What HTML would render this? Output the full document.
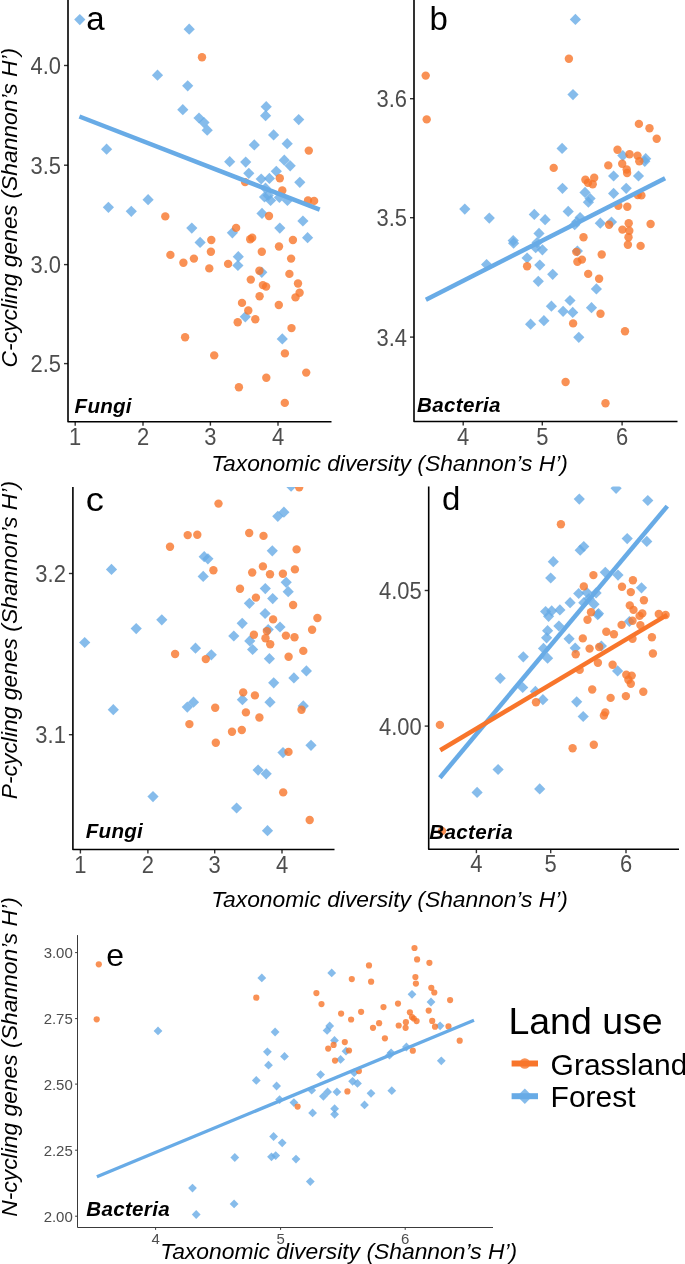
<!DOCTYPE html>
<html><head><meta charset="utf-8"><style>
html,body{margin:0;padding:0;background:#fff;}
body{width:685px;height:1264px;overflow:hidden;}
svg{display:block;font-family:"Liberation Sans",sans-serif;will-change:transform;}
</style></head><body>
<svg width="685" height="1264" viewBox="0 0 685 1264">
<rect width="685" height="1264" fill="#fff"/>
<clipPath id="ca"><rect x="68" y="0" width="264" height="422"/></clipPath><g clip-path="url(#ca)"><g fill="#68ABE6" fill-opacity="0.8"><path d="M79.8 14.0L85.4 19.6L79.8 25.2L74.2 19.6Z"/><path d="M189.2 23.6L194.8 29.2L189.2 34.8L183.6 29.2Z"/><path d="M157.5 69.6L163.1 75.2L157.5 80.8L151.9 75.2Z"/><path d="M187.7 80.2L193.3 85.8L187.7 91.4L182.1 85.8Z"/><path d="M182.8 104.1L188.4 109.7L182.8 115.3L177.2 109.7Z"/><path d="M199.0 112.4L204.6 118.0L199.0 123.6L193.4 118.0Z"/><path d="M266.2 101.1L271.8 106.7L266.2 112.3L260.6 106.7Z"/><path d="M265.6 110.1L271.2 115.7L265.6 121.3L260.0 115.7Z"/><path d="M298.7 114.0L304.3 119.6L298.7 125.2L293.1 119.6Z"/><path d="M273.6 129.3L279.2 134.9L273.6 140.5L268.0 134.9Z"/><path d="M204.0 117.0L209.6 122.6L204.0 128.2L198.4 122.6Z"/><path d="M207.2 124.6L212.8 130.2L207.2 135.8L201.6 130.2Z"/><path d="M287.2 138.1L292.8 143.7L287.2 149.3L281.6 143.7Z"/><path d="M254.3 139.3L259.9 144.9L254.3 150.5L248.7 144.9Z"/><path d="M106.6 143.6L112.2 149.2L106.6 154.8L101.0 149.2Z"/><path d="M108.4 201.7L114.0 207.3L108.4 212.9L102.8 207.3Z"/><path d="M131.3 205.7L136.9 211.3L131.3 216.9L125.7 211.3Z"/><path d="M148.1 194.1L153.7 199.7L148.1 205.3L142.5 199.7Z"/><path d="M191.8 222.5L197.4 228.1L191.8 233.7L186.2 228.1Z"/><path d="M200.1 236.8L205.7 242.4L200.1 248.0L194.5 242.4Z"/><path d="M229.7 156.1L235.3 161.7L229.7 167.3L224.1 161.7Z"/><path d="M245.7 156.5L251.3 162.1L245.7 167.7L240.1 162.1Z"/><path d="M284.3 154.6L289.9 160.2L284.3 165.8L278.7 160.2Z"/><path d="M290.2 160.2L295.8 165.8L290.2 171.4L284.6 165.8Z"/><path d="M248.8 167.7L254.4 173.3L248.8 178.9L243.2 173.3Z"/><path d="M276.3 165.7L281.9 171.3L276.3 176.9L270.7 171.3Z"/><path d="M261.2 173.4L266.8 179.0L261.2 184.6L255.6 179.0Z"/><path d="M269.4 172.8L275.0 178.4L269.4 184.0L263.8 178.4Z"/><path d="M299.8 176.7L305.4 182.3L299.8 187.9L294.2 182.3Z"/><path d="M265.5 182.6L271.1 188.2L265.5 193.8L259.9 188.2Z"/><path d="M264.5 191.4L270.1 197.0L264.5 202.6L258.9 197.0Z"/><path d="M268.2 189.8L273.8 195.4L268.2 201.0L262.6 195.4Z"/><path d="M270.6 194.9L276.2 200.5L270.6 206.1L265.0 200.5Z"/><path d="M279.4 191.8L285.0 197.4L279.4 203.0L273.8 197.4Z"/><path d="M287.4 194.9L293.0 200.5L287.4 206.1L281.8 200.5Z"/><path d="M262.0 207.8L267.6 213.4L262.0 219.0L256.4 213.4Z"/><path d="M302.9 215.4L308.5 221.0L302.9 226.6L297.3 221.0Z"/><path d="M232.4 227.2L238.0 232.8L232.4 238.4L226.8 232.8Z"/><path d="M279.8 222.5L285.4 228.1L279.8 233.7L274.2 228.1Z"/><path d="M307.6 232.1L313.2 237.7L307.6 243.3L302.0 237.7Z"/><path d="M238.3 251.1L243.9 256.7L238.3 262.3L232.7 256.7Z"/><path d="M237.9 259.9L243.5 265.5L237.9 271.1L232.3 265.5Z"/><path d="M261.8 266.7L267.4 272.3L261.8 277.9L256.2 272.3Z"/><path d="M245.3 311.2L250.9 316.8L245.3 322.4L239.7 316.8Z"/><path d="M282.3 333.3L287.9 338.9L282.3 344.5L276.7 338.9Z"/></g><g fill="#F8752B" fill-opacity="0.8"><circle cx="202.0" cy="57.2" r="4.2"/><circle cx="165.3" cy="216.4" r="4.2"/><circle cx="170.4" cy="254.9" r="4.2"/><circle cx="183.4" cy="262.8" r="4.2"/><circle cx="193.9" cy="258.6" r="4.2"/><circle cx="308.8" cy="150.6" r="4.2"/><circle cx="279.8" cy="178.2" r="4.2"/><circle cx="245.1" cy="182.1" r="4.2"/><circle cx="282.3" cy="190.5" r="4.2"/><circle cx="308.0" cy="200.5" r="4.2"/><circle cx="314.1" cy="200.9" r="4.2"/><circle cx="269.0" cy="216.0" r="4.2"/><circle cx="236.1" cy="227.9" r="4.2"/><circle cx="211.3" cy="240.0" r="4.2"/><circle cx="250.2" cy="239.3" r="4.2"/><circle cx="252.2" cy="237.7" r="4.2"/><circle cx="292.9" cy="240.0" r="4.2"/><circle cx="210.9" cy="251.8" r="4.2"/><circle cx="261.8" cy="251.8" r="4.2"/><circle cx="279.0" cy="246.5" r="4.2"/><circle cx="291.1" cy="258.6" r="4.2"/><circle cx="228.1" cy="263.9" r="4.2"/><circle cx="209.3" cy="268.4" r="4.2"/><circle cx="259.4" cy="270.8" r="4.2"/><circle cx="289.4" cy="273.9" r="4.2"/><circle cx="250.8" cy="279.6" r="4.2"/><circle cx="262.9" cy="285.1" r="4.2"/><circle cx="266.1" cy="286.6" r="4.2"/><circle cx="298.0" cy="283.5" r="4.2"/><circle cx="299.6" cy="292.7" r="4.2"/><circle cx="295.5" cy="297.4" r="4.2"/><circle cx="259.6" cy="296.2" r="4.2"/><circle cx="242.0" cy="302.9" r="4.2"/><circle cx="278.8" cy="305.0" r="4.2"/><circle cx="248.3" cy="310.5" r="4.2"/><circle cx="255.3" cy="319.3" r="4.2"/><circle cx="237.7" cy="322.3" r="4.2"/><circle cx="291.5" cy="328.1" r="4.2"/><circle cx="185.1" cy="337.3" r="4.2"/><circle cx="214.2" cy="355.4" r="4.2"/><circle cx="284.9" cy="353.4" r="4.2"/><circle cx="306.2" cy="372.6" r="4.2"/><circle cx="266.3" cy="377.7" r="4.2"/><circle cx="238.9" cy="387.3" r="4.2"/><circle cx="284.8" cy="402.9" r="4.2"/></g><line x1="79.4" y1="116.5" x2="319.7" y2="209.7" stroke="#68ABE6" stroke-width="4.5"/></g><line x1="64" y1="65.5" x2="68" y2="65.5" stroke="#333" stroke-width="1.4"/><text transform="translate(61.0 74.0) scale(0.93 1)" text-anchor="end" font-size="23.62" fill="#4D4D4D">4.0</text><line x1="64" y1="165.2" x2="68" y2="165.2" stroke="#333" stroke-width="1.4"/><text transform="translate(61.0 173.7) scale(0.93 1)" text-anchor="end" font-size="23.62" fill="#4D4D4D">3.5</text><line x1="64" y1="264.6" x2="68" y2="264.6" stroke="#333" stroke-width="1.4"/><text transform="translate(61.0 273.1) scale(0.93 1)" text-anchor="end" font-size="23.62" fill="#4D4D4D">3.0</text><line x1="64" y1="363.6" x2="68" y2="363.6" stroke="#333" stroke-width="1.4"/><text transform="translate(61.0 372.1) scale(0.93 1)" text-anchor="end" font-size="23.62" fill="#4D4D4D">2.5</text><line x1="75.2" y1="421.7" x2="75.2" y2="425.7" stroke="#333" stroke-width="1.4"/><text transform="translate(75.2 444.9) scale(0.93 1)" text-anchor="middle" font-size="23.62" fill="#4D4D4D">1</text><line x1="143" y1="421.7" x2="143" y2="425.7" stroke="#333" stroke-width="1.4"/><text transform="translate(143 444.9) scale(0.93 1)" text-anchor="middle" font-size="23.62" fill="#4D4D4D">2</text><line x1="210.4" y1="421.7" x2="210.4" y2="425.7" stroke="#333" stroke-width="1.4"/><text transform="translate(210.4 444.9) scale(0.93 1)" text-anchor="middle" font-size="23.62" fill="#4D4D4D">3</text><line x1="278" y1="421.7" x2="278" y2="425.7" stroke="#333" stroke-width="1.4"/><text transform="translate(278 444.9) scale(0.93 1)" text-anchor="middle" font-size="23.62" fill="#4D4D4D">4</text><path d="M68 0V421.7H331.5" fill="none" stroke="#000" stroke-width="1.6" stroke-linejoin="round"/><clipPath id="cb"><rect x="414" y="0" width="264" height="421.5"/></clipPath><g clip-path="url(#cb)"><g fill="#68ABE6" fill-opacity="0.8"><path d="M575.4 13.8L581.0 19.4L575.4 25.0L569.8 19.4Z"/><path d="M573.0 89.0L578.6 94.6L573.0 100.2L567.4 94.6Z"/><path d="M464.8 203.5L470.4 209.1L464.8 214.7L459.2 209.1Z"/><path d="M489.3 212.5L494.9 218.1L489.3 223.7L483.7 218.1Z"/><path d="M534.3 208.8L539.9 214.4L534.3 220.0L528.7 214.4Z"/><path d="M545.1 214.1L550.7 219.7L545.1 225.3L539.5 219.7Z"/><path d="M513.2 235.0L518.8 240.6L513.2 246.2L507.6 240.6Z"/><path d="M513.6 237.6L519.2 243.2L513.6 248.8L508.0 243.2Z"/><path d="M539.0 227.8L544.6 233.4L539.0 239.0L533.4 233.4Z"/><path d="M537.1 237.0L542.7 242.6L537.1 248.2L531.5 242.6Z"/><path d="M535.7 242.1L541.3 247.7L535.7 253.3L530.1 247.7Z"/><path d="M542.4 244.2L548.0 249.8L542.4 255.4L536.8 249.8Z"/><path d="M527.1 252.4L532.7 258.0L527.1 263.6L521.5 258.0Z"/><path d="M562.1 142.8L567.7 148.4L562.1 154.0L556.5 148.4Z"/><path d="M622.8 150.0L628.4 155.6L622.8 161.2L617.2 155.6Z"/><path d="M645.7 153.1L651.3 158.7L645.7 164.3L640.1 158.7Z"/><path d="M644.8 155.7L650.4 161.3L644.8 166.9L639.2 161.3Z"/><path d="M613.6 170.4L619.2 176.0L613.6 181.6L608.0 176.0Z"/><path d="M638.5 170.4L644.1 176.0L638.5 181.6L632.9 176.0Z"/><path d="M562.5 182.7L568.1 188.3L562.5 193.9L556.9 188.3Z"/><path d="M585.0 186.8L590.6 192.4L585.0 198.0L579.4 192.4Z"/><path d="M613.6 187.8L619.2 193.4L613.6 199.0L608.0 193.4Z"/><path d="M626.2 182.7L631.8 188.3L626.2 193.9L620.6 188.3Z"/><path d="M590.1 192.9L595.7 198.5L590.1 204.1L584.5 198.5Z"/><path d="M588.4 196.6L594.0 202.2L588.4 207.8L582.8 202.2Z"/><path d="M568.2 205.8L573.8 211.4L568.2 217.0L562.6 211.4Z"/><path d="M580.1 211.9L585.7 217.5L580.1 223.1L574.5 217.5Z"/><path d="M576.8 216.4L582.4 222.0L576.8 227.6L571.2 222.0Z"/><path d="M574.7 219.1L580.3 224.7L574.7 230.3L569.1 224.7Z"/><path d="M600.3 217.6L605.9 223.2L600.3 228.8L594.7 223.2Z"/><path d="M611.5 216.4L617.1 222.0L611.5 227.6L605.9 222.0Z"/><path d="M486.6 258.9L492.2 264.5L486.6 270.1L481.0 264.5Z"/><path d="M539.8 259.5L545.4 265.1L539.8 270.7L534.2 265.1Z"/><path d="M538.3 275.7L543.9 281.3L538.3 286.9L532.7 281.3Z"/><path d="M552.7 268.7L558.3 274.3L552.7 279.9L547.1 274.3Z"/><path d="M551.4 300.6L557.0 306.2L551.4 311.8L545.8 306.2Z"/><path d="M530.6 318.6L536.2 324.2L530.6 329.8L525.0 324.2Z"/><path d="M543.9 315.1L549.5 320.7L543.9 326.3L538.3 320.7Z"/><path d="M577.4 245.4L583.0 251.0L577.4 256.6L571.8 251.0Z"/><path d="M596.4 283.3L602.0 288.9L596.4 294.5L590.8 288.9Z"/><path d="M570.0 294.9L575.6 300.5L570.0 306.1L564.4 300.5Z"/><path d="M563.1 305.7L568.7 311.3L563.1 316.9L557.5 311.3Z"/><path d="M572.7 306.8L578.3 312.4L572.7 318.0L567.1 312.4Z"/><path d="M591.5 302.1L597.1 307.7L591.5 313.3L585.9 307.7Z"/><path d="M578.8 331.7L584.4 337.3L578.8 342.9L573.2 337.3Z"/></g><g fill="#F8752B" fill-opacity="0.8"><circle cx="425.7" cy="75.6" r="4.2"/><circle cx="426.7" cy="119.4" r="4.2"/><circle cx="568.9" cy="58.7" r="4.2"/><circle cx="638.9" cy="123.9" r="4.2"/><circle cx="649.5" cy="128.2" r="4.2"/><circle cx="656.7" cy="138.8" r="4.2"/><circle cx="617.5" cy="149.7" r="4.2"/><circle cx="629.5" cy="154.2" r="4.2"/><circle cx="637.5" cy="155.6" r="4.2"/><circle cx="639.3" cy="161.3" r="4.2"/><circle cx="553.7" cy="167.9" r="4.2"/><circle cx="608.3" cy="165.4" r="4.2"/><circle cx="622.2" cy="163.8" r="4.2"/><circle cx="626.7" cy="169.5" r="4.2"/><circle cx="627.1" cy="173.0" r="4.2"/><circle cx="585.4" cy="179.7" r="4.2"/><circle cx="594.2" cy="177.7" r="4.2"/><circle cx="588.0" cy="182.8" r="4.2"/><circle cx="592.7" cy="184.2" r="4.2"/><circle cx="637.7" cy="195.0" r="4.2"/><circle cx="641.4" cy="195.4" r="4.2"/><circle cx="618.3" cy="205.7" r="4.2"/><circle cx="627.3" cy="206.7" r="4.2"/><circle cx="609.1" cy="224.7" r="4.2"/><circle cx="628.7" cy="223.2" r="4.2"/><circle cx="650.6" cy="224.0" r="4.2"/><circle cx="622.4" cy="229.6" r="4.2"/><circle cx="629.3" cy="230.8" r="4.2"/><circle cx="628.5" cy="237.3" r="4.2"/><circle cx="583.5" cy="237.3" r="4.2"/><circle cx="527.1" cy="266.2" r="4.2"/><circle cx="627.9" cy="244.7" r="4.2"/><circle cx="640.6" cy="245.9" r="4.2"/><circle cx="576.4" cy="251.9" r="4.2"/><circle cx="577.4" cy="261.7" r="4.2"/><circle cx="581.9" cy="259.6" r="4.2"/><circle cx="601.7" cy="254.5" r="4.2"/><circle cx="588.2" cy="273.9" r="4.2"/><circle cx="599.1" cy="278.8" r="4.2"/><circle cx="600.5" cy="313.8" r="4.2"/><circle cx="573.1" cy="323.4" r="4.2"/><circle cx="625.0" cy="331.2" r="4.2"/><circle cx="565.6" cy="382.0" r="4.2"/><circle cx="605.5" cy="403.2" r="4.2"/></g><line x1="425.9" y1="299.7" x2="665.1" y2="178.3" stroke="#68ABE6" stroke-width="4.5"/></g><line x1="410" y1="98.7" x2="414" y2="98.7" stroke="#333" stroke-width="1.4"/><text transform="translate(407.0 107.2) scale(0.93 1)" text-anchor="end" font-size="23.62" fill="#4D4D4D">3.6</text><line x1="410" y1="217.7" x2="414" y2="217.7" stroke="#333" stroke-width="1.4"/><text transform="translate(407.0 226.2) scale(0.93 1)" text-anchor="end" font-size="23.62" fill="#4D4D4D">3.5</text><line x1="410" y1="337.1" x2="414" y2="337.1" stroke="#333" stroke-width="1.4"/><text transform="translate(407.0 345.6) scale(0.93 1)" text-anchor="end" font-size="23.62" fill="#4D4D4D">3.4</text><line x1="463.2" y1="421.5" x2="463.2" y2="425.5" stroke="#333" stroke-width="1.4"/><text transform="translate(463.2 444.7) scale(0.93 1)" text-anchor="middle" font-size="23.62" fill="#4D4D4D">4</text><line x1="542.3" y1="421.5" x2="542.3" y2="425.5" stroke="#333" stroke-width="1.4"/><text transform="translate(542.3 444.7) scale(0.93 1)" text-anchor="middle" font-size="23.62" fill="#4D4D4D">5</text><line x1="622.1" y1="421.5" x2="622.1" y2="425.5" stroke="#333" stroke-width="1.4"/><text transform="translate(622.1 444.7) scale(0.93 1)" text-anchor="middle" font-size="23.62" fill="#4D4D4D">6</text><path d="M414 0V421.5H677.5" fill="none" stroke="#000" stroke-width="1.6" stroke-linejoin="round"/><clipPath id="cc"><rect x="72.9" y="486.9" width="262.1" height="362.6"/></clipPath><g clip-path="url(#cc)"><g fill="#68ABE6" fill-opacity="0.8"><path d="M111.5 563.8L117.1 569.4L111.5 575.0L105.9 569.4Z"/><path d="M291.1 480.6L296.7 486.2L291.1 491.8L285.5 486.2Z"/><path d="M277.8 510.7L283.4 516.3L277.8 521.9L272.2 516.3Z"/><path d="M283.9 506.6L289.5 512.2L283.9 517.8L278.3 512.2Z"/><path d="M272.3 545.2L277.9 550.8L272.3 556.4L266.7 550.8Z"/><path d="M204.2 551.1L209.8 556.7L204.2 562.3L198.6 556.7Z"/><path d="M207.9 553.2L213.5 558.8L207.9 564.4L202.3 558.8Z"/><path d="M203.2 570.8L208.8 576.4L203.2 582.0L197.6 576.4Z"/><path d="M286.2 576.7L291.8 582.3L286.2 587.9L280.6 582.3Z"/><path d="M288.2 586.1L293.8 591.7L288.2 597.3L282.6 591.7Z"/><path d="M265.3 583.0L270.9 588.6L265.3 594.2L259.7 588.6Z"/><path d="M249.4 597.7L255.0 603.3L249.4 608.9L243.8 603.3Z"/><path d="M272.7 593.0L278.3 598.6L272.7 604.2L267.1 598.6Z"/><path d="M265.1 607.9L270.7 613.5L265.1 619.1L259.5 613.5Z"/><path d="M84.7 636.9L90.3 642.5L84.7 648.1L79.1 642.5Z"/><path d="M136.2 623.0L141.8 628.6L136.2 634.2L130.6 628.6Z"/><path d="M161.8 614.2L167.4 619.8L161.8 625.4L156.2 619.8Z"/><path d="M195.5 642.6L201.1 648.2L195.5 653.8L189.9 648.2Z"/><path d="M113.3 704.1L118.9 709.7L113.3 715.3L107.7 709.7Z"/><path d="M187.3 701.5L192.9 707.1L187.3 712.7L181.7 707.1Z"/><path d="M193.5 696.6L199.1 702.2L193.5 707.8L187.9 702.2Z"/><path d="M242.2 617.7L247.8 623.3L242.2 628.9L236.6 623.3Z"/><path d="M280.0 621.4L285.6 627.0L280.0 632.6L274.4 627.0Z"/><path d="M268.2 624.0L273.8 629.6L268.2 635.2L262.6 629.6Z"/><path d="M233.8 630.4L239.4 636.0L233.8 641.6L228.2 636.0Z"/><path d="M249.8 635.3L255.4 640.9L249.8 646.5L244.2 640.9Z"/><path d="M252.6 643.9L258.2 649.5L252.6 655.1L247.0 649.5Z"/><path d="M211.3 649.2L216.9 654.8L211.3 660.4L205.7 654.8Z"/><path d="M269.4 653.1L275.0 658.7L269.4 664.3L263.8 658.7Z"/><path d="M306.4 665.3L312.0 670.9L306.4 676.5L300.8 670.9Z"/><path d="M293.9 672.3L299.5 677.9L293.9 683.5L288.3 677.9Z"/><path d="M273.7 677.2L279.3 682.8L273.7 688.4L268.1 682.8Z"/><path d="M242.4 694.1L248.0 699.7L242.4 705.3L236.8 699.7Z"/><path d="M270.0 696.6L275.6 702.2L270.0 707.8L264.4 702.2Z"/><path d="M303.3 700.3L308.9 705.9L303.3 711.5L297.7 705.9Z"/><path d="M153.0 791.0L158.6 796.6L153.0 802.2L147.4 796.6Z"/><path d="M311.0 739.7L316.6 745.3L311.0 750.9L305.4 745.3Z"/><path d="M283.0 747.0L288.6 752.6L283.0 758.2L277.4 752.6Z"/><path d="M258.1 764.5L263.7 770.1L258.1 775.7L252.5 770.1Z"/><path d="M266.2 768.2L271.8 773.8L266.2 779.4L260.6 773.8Z"/><path d="M236.6 802.4L242.2 808.0L236.6 813.6L231.0 808.0Z"/><path d="M267.5 825.1L273.1 830.7L267.5 836.3L261.9 830.7Z"/></g><g fill="#F8752B" fill-opacity="0.8"><circle cx="170.0" cy="546.7" r="4.2"/><circle cx="187.7" cy="535.1" r="4.2"/><circle cx="197.3" cy="534.7" r="4.2"/><circle cx="299.2" cy="487.3" r="4.2"/><circle cx="218.5" cy="503.6" r="4.2"/><circle cx="249.2" cy="533.0" r="4.2"/><circle cx="263.5" cy="535.9" r="4.2"/><circle cx="296.6" cy="549.4" r="4.2"/><circle cx="213.4" cy="570.2" r="4.2"/><circle cx="262.9" cy="566.4" r="4.2"/><circle cx="252.2" cy="572.5" r="4.2"/><circle cx="270.0" cy="574.3" r="4.2"/><circle cx="282.9" cy="573.7" r="4.2"/><circle cx="294.9" cy="569.4" r="4.2"/><circle cx="240.0" cy="588.8" r="4.2"/><circle cx="255.9" cy="597.6" r="4.2"/><circle cx="293.1" cy="605.0" r="4.2"/><circle cx="317.4" cy="618.0" r="4.2"/><circle cx="175.1" cy="654.0" r="4.2"/><circle cx="189.4" cy="724.1" r="4.2"/><circle cx="273.1" cy="619.4" r="4.2"/><circle cx="312.1" cy="629.8" r="4.2"/><circle cx="266.9" cy="631.1" r="4.2"/><circle cx="253.9" cy="634.7" r="4.2"/><circle cx="285.9" cy="635.6" r="4.2"/><circle cx="294.5" cy="637.2" r="4.2"/><circle cx="265.5" cy="638.2" r="4.2"/><circle cx="270.2" cy="644.3" r="4.2"/><circle cx="205.8" cy="659.1" r="4.2"/><circle cx="303.3" cy="650.9" r="4.2"/><circle cx="288.6" cy="656.8" r="4.2"/><circle cx="243.2" cy="692.4" r="4.2"/><circle cx="254.9" cy="695.4" r="4.2"/><circle cx="215.2" cy="707.7" r="4.2"/><circle cx="301.5" cy="709.7" r="4.2"/><circle cx="245.9" cy="712.4" r="4.2"/><circle cx="259.4" cy="717.5" r="4.2"/><circle cx="232.0" cy="731.8" r="4.2"/><circle cx="241.8" cy="730.0" r="4.2"/><circle cx="215.8" cy="742.7" r="4.2"/><circle cx="288.5" cy="751.9" r="4.2"/><circle cx="283.2" cy="792.4" r="4.2"/><circle cx="309.7" cy="820.0" r="4.2"/></g></g><line x1="68.9" y1="573.5" x2="72.9" y2="573.5" stroke="#333" stroke-width="1.4"/><text transform="translate(65.9 582.0) scale(0.93 1)" text-anchor="end" font-size="23.62" fill="#4D4D4D">3.2</text><line x1="68.9" y1="734.7" x2="72.9" y2="734.7" stroke="#333" stroke-width="1.4"/><text transform="translate(65.9 743.2) scale(0.93 1)" text-anchor="end" font-size="23.62" fill="#4D4D4D">3.1</text><line x1="80.4" y1="849.5" x2="80.4" y2="853.5" stroke="#333" stroke-width="1.4"/><text transform="translate(80.4 872.7) scale(0.93 1)" text-anchor="middle" font-size="23.62" fill="#4D4D4D">1</text><line x1="147.9" y1="849.5" x2="147.9" y2="853.5" stroke="#333" stroke-width="1.4"/><text transform="translate(147.9 872.7) scale(0.93 1)" text-anchor="middle" font-size="23.62" fill="#4D4D4D">2</text><line x1="214.7" y1="849.5" x2="214.7" y2="853.5" stroke="#333" stroke-width="1.4"/><text transform="translate(214.7 872.7) scale(0.93 1)" text-anchor="middle" font-size="23.62" fill="#4D4D4D">3</text><line x1="282" y1="849.5" x2="282" y2="853.5" stroke="#333" stroke-width="1.4"/><text transform="translate(282 872.7) scale(0.93 1)" text-anchor="middle" font-size="23.62" fill="#4D4D4D">4</text><path d="M72.9 486.9V849.5H334.5" fill="none" stroke="#000" stroke-width="1.6" stroke-linejoin="round"/><clipPath id="cd"><rect x="428.7" y="486.6" width="250.3" height="362.6"/></clipPath><g clip-path="url(#cd)"><g fill="#68ABE6" fill-opacity="0.8"><path d="M553.3 556.1L558.9 561.7L553.3 567.3L547.7 561.7Z"/><path d="M550.7 572.4L556.3 578.0L550.7 583.6L545.1 578.0Z"/><path d="M545.6 605.9L551.2 611.5L545.6 617.1L540.0 611.5Z"/><path d="M551.7 605.3L557.3 610.9L551.7 616.5L546.1 610.9Z"/><path d="M559.9 604.3L565.5 609.9L559.9 615.5L554.3 609.9Z"/><path d="M616.1 482.7L621.7 488.3L616.1 493.9L610.5 488.3Z"/><path d="M579.3 493.5L584.9 499.1L579.3 504.7L573.7 499.1Z"/><path d="M647.8 494.9L653.4 500.5L647.8 506.1L642.2 500.5Z"/><path d="M627.2 533.0L632.8 538.6L627.2 544.2L621.6 538.6Z"/><path d="M646.8 535.8L652.4 541.4L646.8 547.0L641.2 541.4Z"/><path d="M583.8 540.9L589.4 546.5L583.8 552.1L578.2 546.5Z"/><path d="M580.2 544.6L585.8 550.2L580.2 555.8L574.6 550.2Z"/><path d="M605.3 566.7L610.9 572.3L605.3 577.9L599.7 572.3Z"/><path d="M618.0 569.5L623.6 575.1L618.0 580.7L612.4 575.1Z"/><path d="M641.5 582.2L647.1 587.8L641.5 593.4L635.9 587.8Z"/><path d="M578.7 587.9L584.3 593.5L578.7 599.1L573.1 593.5Z"/><path d="M586.9 586.9L592.5 592.5L586.9 598.1L581.3 592.5Z"/><path d="M596.1 587.3L601.7 592.9L596.1 598.5L590.5 592.9Z"/><path d="M570.1 597.1L575.7 602.7L570.1 608.3L564.5 602.7Z"/><path d="M589.0 593.0L594.6 598.6L589.0 604.2L583.4 598.6Z"/><path d="M583.8 597.1L589.4 602.7L583.8 608.3L578.2 602.7Z"/><path d="M594.0 598.6L599.6 604.2L594.0 609.8L588.4 604.2Z"/><path d="M598.5 608.0L604.1 613.6L598.5 619.2L592.9 613.6Z"/><path d="M548.6 610.7L554.2 616.3L548.6 621.9L543.0 616.3Z"/><path d="M558.9 620.4L564.5 626.0L558.9 631.6L553.3 626.0Z"/><path d="M547.6 625.1L553.2 630.7L547.6 636.3L542.0 630.7Z"/><path d="M546.6 632.2L552.2 637.8L546.6 643.4L541.0 637.8Z"/><path d="M543.5 642.8L549.1 648.4L543.5 654.0L537.9 648.4Z"/><path d="M547.6 652.6L553.2 658.2L547.6 663.8L542.0 658.2Z"/><path d="M523.3 651.2L528.9 656.8L523.3 662.4L517.7 656.8Z"/><path d="M500.2 672.7L505.8 678.3L500.2 683.9L494.6 678.3Z"/><path d="M522.7 681.9L528.3 687.5L522.7 693.1L517.1 687.5Z"/><path d="M535.4 685.8L541.0 691.4L535.4 697.0L529.8 691.4Z"/><path d="M542.9 694.1L548.5 699.7L542.9 705.3L537.3 699.7Z"/><path d="M597.7 609.1L603.3 614.7L597.7 620.3L592.1 614.7Z"/><path d="M629.4 615.9L635.0 621.5L629.4 627.1L623.8 621.5Z"/><path d="M569.1 633.2L574.7 638.8L569.1 644.4L563.5 638.8Z"/><path d="M575.2 642.4L580.8 648.0L575.2 653.6L569.6 648.0Z"/><path d="M601.4 640.4L607.0 646.0L601.4 651.6L595.8 646.0Z"/><path d="M617.6 665.3L623.2 670.9L617.6 676.5L612.0 670.9Z"/><path d="M576.7 696.2L582.3 701.8L576.7 707.4L571.1 701.8Z"/><path d="M583.2 710.9L588.8 716.5L583.2 722.1L577.6 716.5Z"/><path d="M498.1 763.9L503.7 769.5L498.1 775.1L492.5 769.5Z"/><path d="M477.1 786.8L482.7 792.4L477.1 798.0L471.5 792.4Z"/><path d="M539.7 783.3L545.3 788.9L539.7 794.5L534.1 788.9Z"/></g><g fill="#F8752B" fill-opacity="0.8"><circle cx="560.9" cy="524.3" r="4.2"/><circle cx="593.4" cy="575.1" r="4.2"/><circle cx="632.9" cy="580.3" r="4.2"/><circle cx="622.0" cy="586.8" r="4.2"/><circle cx="630.8" cy="592.1" r="4.2"/><circle cx="583.8" cy="586.4" r="4.2"/><circle cx="643.9" cy="600.3" r="4.2"/><circle cx="629.8" cy="605.4" r="4.2"/><circle cx="633.5" cy="609.9" r="4.2"/><circle cx="591.0" cy="612.3" r="4.2"/><circle cx="642.3" cy="613.4" r="4.2"/><circle cx="658.8" cy="614.0" r="4.2"/><circle cx="665.6" cy="615.0" r="4.2"/><circle cx="536.0" cy="702.2" r="4.2"/><circle cx="439.9" cy="724.9" r="4.2"/><circle cx="587.5" cy="619.8" r="4.2"/><circle cx="639.6" cy="615.9" r="4.2"/><circle cx="621.6" cy="624.9" r="4.2"/><circle cx="632.5" cy="620.8" r="4.2"/><circle cx="640.4" cy="625.1" r="4.2"/><circle cx="606.3" cy="631.7" r="4.2"/><circle cx="613.9" cy="634.3" r="4.2"/><circle cx="582.8" cy="638.4" r="4.2"/><circle cx="632.5" cy="638.8" r="4.2"/><circle cx="651.9" cy="637.2" r="4.2"/><circle cx="589.6" cy="648.6" r="4.2"/><circle cx="599.2" cy="647.0" r="4.2"/><circle cx="575.7" cy="654.2" r="4.2"/><circle cx="652.9" cy="653.5" r="4.2"/><circle cx="597.9" cy="662.7" r="4.2"/><circle cx="612.6" cy="664.8" r="4.2"/><circle cx="579.7" cy="669.9" r="4.2"/><circle cx="626.3" cy="674.8" r="4.2"/><circle cx="631.7" cy="675.6" r="4.2"/><circle cx="628.4" cy="679.7" r="4.2"/><circle cx="630.8" cy="683.8" r="4.2"/><circle cx="592.2" cy="689.5" r="4.2"/><circle cx="643.3" cy="691.8" r="4.2"/><circle cx="610.6" cy="697.9" r="4.2"/><circle cx="625.9" cy="696.1" r="4.2"/><circle cx="605.3" cy="712.4" r="4.2"/><circle cx="603.9" cy="715.5" r="4.2"/><circle cx="572.6" cy="748.2" r="4.2"/><circle cx="593.8" cy="744.7" r="4.2"/><circle cx="442.0" cy="831.0" r="4.2"/></g><line x1="439.9" y1="777.7" x2="667.3" y2="506.1" stroke="#68ABE6" stroke-width="4.5"/><line x1="440.2" y1="750.2" x2="667.2" y2="614.9" stroke="#F8752B" stroke-width="4.5"/></g><line x1="424.7" y1="590.5" x2="428.7" y2="590.5" stroke="#333" stroke-width="1.4"/><text transform="translate(421.7 599.0) scale(0.93 1)" text-anchor="end" font-size="23.62" fill="#4D4D4D">4.05</text><line x1="424.7" y1="726.1" x2="428.7" y2="726.1" stroke="#333" stroke-width="1.4"/><text transform="translate(421.7 734.6) scale(0.93 1)" text-anchor="end" font-size="23.62" fill="#4D4D4D">4.00</text><line x1="476.4" y1="849.2" x2="476.4" y2="853.2" stroke="#333" stroke-width="1.4"/><text transform="translate(476.4 872.4) scale(0.93 1)" text-anchor="middle" font-size="23.62" fill="#4D4D4D">4</text><line x1="550.7" y1="849.2" x2="550.7" y2="853.2" stroke="#333" stroke-width="1.4"/><text transform="translate(550.7 872.4) scale(0.93 1)" text-anchor="middle" font-size="23.62" fill="#4D4D4D">5</text><line x1="626" y1="849.2" x2="626" y2="853.2" stroke="#333" stroke-width="1.4"/><text transform="translate(626 872.4) scale(0.93 1)" text-anchor="middle" font-size="23.62" fill="#4D4D4D">6</text><path d="M428.7 486.6V849.2H679" fill="none" stroke="#000" stroke-width="1.6" stroke-linejoin="round"/><clipPath id="ce"><rect x="77.4" y="935.1" width="415.6" height="292.30000000000007"/></clipPath><g clip-path="url(#ce)"><g fill="#68ABE6" fill-opacity="0.8"><path d="M158.0 1026.5L162.4 1030.9L158.0 1035.3L153.6 1030.9Z"/><path d="M261.8 973.5L266.2 977.9L261.8 982.3L257.4 977.9Z"/><path d="M267.4 1047.4L271.8 1051.8L267.4 1056.2L263.0 1051.8Z"/><path d="M268.5 1060.8L272.9 1065.2L268.5 1069.6L264.1 1065.2Z"/><path d="M256.3 1076.0L260.7 1080.4L256.3 1084.8L251.9 1080.4Z"/><path d="M331.7 968.5L336.1 972.9L331.7 977.3L327.3 972.9Z"/><path d="M329.7 1021.6L334.1 1026.0L329.7 1030.4L325.3 1026.0Z"/><path d="M327.1 1026.0L331.5 1030.4L327.1 1034.8L322.7 1030.4Z"/><path d="M275.1 1027.6L279.5 1032.0L275.1 1036.4L270.7 1032.0Z"/><path d="M334.5 1036.0L338.9 1040.4L334.5 1044.8L330.1 1040.4Z"/><path d="M412.0 989.9L416.4 994.3L412.0 998.7L407.6 994.3Z"/><path d="M431.0 997.6L435.4 1002.0L431.0 1006.4L426.6 1002.0Z"/><path d="M440.1 1021.4L444.5 1025.8L440.1 1030.2L435.7 1025.8Z"/><path d="M406.4 1042.6L410.8 1047.0L406.4 1051.4L402.0 1047.0Z"/><path d="M284.5 1052.0L288.9 1056.4L284.5 1060.8L280.1 1056.4Z"/><path d="M276.6 1081.6L281.0 1086.0L276.6 1090.4L272.2 1086.0Z"/><path d="M279.6 1095.2L284.0 1099.6L279.6 1104.0L275.2 1099.6Z"/><path d="M293.9 1098.2L298.3 1102.6L293.9 1107.0L289.5 1102.6Z"/><path d="M312.6 1108.5L317.0 1112.9L312.6 1117.3L308.2 1112.9Z"/><path d="M273.6 1132.1L278.0 1136.5L273.6 1140.9L269.2 1136.5Z"/><path d="M282.2 1138.4L286.6 1142.8L282.2 1147.2L277.8 1142.8Z"/><path d="M234.8 1153.1L239.2 1157.5L234.8 1161.9L230.4 1157.5Z"/><path d="M271.5 1152.4L275.9 1156.8L271.5 1161.2L267.1 1156.8Z"/><path d="M275.7 1151.2L280.1 1155.6L275.7 1160.0L271.3 1155.6Z"/><path d="M296.0 1154.7L300.4 1159.1L296.0 1163.5L291.6 1159.1Z"/><path d="M192.5 1183.7L196.9 1188.1L192.5 1192.5L188.1 1188.1Z"/><path d="M196.2 1210.1L200.6 1214.5L196.2 1218.9L191.8 1214.5Z"/><path d="M234.1 1199.5L238.5 1203.9L234.1 1208.3L229.7 1203.9Z"/><path d="M346.0 1046.8L350.4 1051.2L346.0 1055.6L341.6 1051.2Z"/><path d="M340.6 1055.0L345.0 1059.4L340.6 1063.8L336.2 1059.4Z"/><path d="M320.6 1070.2L325.0 1074.6L320.6 1079.0L316.2 1074.6Z"/><path d="M391.1 1048.4L395.5 1052.8L391.1 1057.2L386.7 1052.8Z"/><path d="M389.5 1050.8L393.9 1055.2L389.5 1059.6L385.1 1055.2Z"/><path d="M441.3 1056.4L445.7 1060.8L441.3 1065.2L436.9 1060.8Z"/><path d="M354.2 1068.3L358.6 1072.7L354.2 1077.1L349.8 1072.7Z"/><path d="M352.6 1076.9L357.0 1081.3L352.6 1085.7L348.2 1081.3Z"/><path d="M357.5 1079.0L361.9 1083.4L357.5 1087.8L353.1 1083.4Z"/><path d="M311.7 1085.8L316.1 1090.2L311.7 1094.6L307.3 1090.2Z"/><path d="M327.6 1087.5L332.0 1091.9L327.6 1096.3L323.2 1091.9Z"/><path d="M323.4 1091.9L327.8 1096.3L323.4 1100.7L319.0 1096.3Z"/><path d="M336.9 1087.5L341.3 1091.9L336.9 1096.3L332.5 1091.9Z"/><path d="M371.0 1088.9L375.4 1093.3L371.0 1097.7L366.6 1093.3Z"/><path d="M391.8 1086.3L396.2 1090.7L391.8 1095.1L387.4 1090.7Z"/><path d="M364.5 1100.5L368.9 1104.9L364.5 1109.3L360.1 1104.9Z"/><path d="M334.6 1104.3L339.0 1108.7L334.6 1113.1L330.2 1108.7Z"/><path d="M334.6 1109.9L339.0 1114.3L334.6 1118.7L330.2 1114.3Z"/><path d="M310.3 1177.2L314.7 1181.6L310.3 1186.0L305.9 1181.6Z"/></g><g fill="#F8752B" fill-opacity="0.8"><circle cx="98.8" cy="964.3" r="3.1"/><circle cx="96.7" cy="1019.3" r="3.1"/><circle cx="256.3" cy="997.7" r="3.1"/><circle cx="369.0" cy="965.4" r="3.1"/><circle cx="351.8" cy="979.1" r="3.1"/><circle cx="371.1" cy="981.7" r="3.1"/><circle cx="316.4" cy="993.1" r="3.1"/><circle cx="321.5" cy="1004.1" r="3.1"/><circle cx="341.1" cy="1013.6" r="3.1"/><circle cx="361.1" cy="1011.8" r="3.1"/><circle cx="351.1" cy="1019.5" r="3.1"/><circle cx="373.0" cy="1027.8" r="3.1"/><circle cx="379.1" cy="1023.2" r="3.1"/><circle cx="344.8" cy="1042.1" r="3.1"/><circle cx="333.6" cy="1044.9" r="3.1"/><circle cx="328.2" cy="1048.6" r="3.1"/><circle cx="349.0" cy="1050.5" r="3.1"/><circle cx="414.5" cy="948.0" r="3.1"/><circle cx="417.1" cy="959.4" r="3.1"/><circle cx="429.4" cy="962.8" r="3.1"/><circle cx="415.4" cy="977.0" r="3.1"/><circle cx="415.9" cy="983.6" r="3.1"/><circle cx="431.3" cy="987.8" r="3.1"/><circle cx="434.3" cy="992.5" r="3.1"/><circle cx="450.1" cy="1000.1" r="3.1"/><circle cx="398.0" cy="1003.6" r="3.1"/><circle cx="383.5" cy="1007.1" r="3.1"/><circle cx="428.7" cy="1010.6" r="3.1"/><circle cx="409.9" cy="1012.3" r="3.1"/><circle cx="412.0" cy="1017.1" r="3.1"/><circle cx="413.8" cy="1018.5" r="3.1"/><circle cx="416.6" cy="1021.1" r="3.1"/><circle cx="405.9" cy="1022.2" r="3.1"/><circle cx="432.2" cy="1020.9" r="3.1"/><circle cx="398.7" cy="1025.5" r="3.1"/><circle cx="405.6" cy="1027.8" r="3.1"/><circle cx="435.0" cy="1026.7" r="3.1"/><circle cx="448.5" cy="1026.4" r="3.1"/><circle cx="384.9" cy="1038.3" r="3.1"/><circle cx="459.7" cy="1040.7" r="3.1"/><circle cx="412.8" cy="1050.7" r="3.1"/><circle cx="335.0" cy="1060.6" r="3.1"/><circle cx="358.9" cy="1071.1" r="3.1"/><circle cx="347.4" cy="1091.4" r="3.1"/><circle cx="297.6" cy="1106.6" r="3.1"/></g><line x1="96.9" y1="1176.8" x2="474" y2="1020.2" stroke="#68ABE6" stroke-width="3.4"/></g><line x1="75.1" y1="952.6" x2="77.5" y2="952.6" stroke="#3a3a3a" stroke-width="1.0"/><text transform="translate(72.8 958.0) scale(1.0 1)" text-anchor="end" font-size="14.99" fill="#4D4D4D">3.00</text><line x1="75.1" y1="1018.6" x2="77.5" y2="1018.6" stroke="#3a3a3a" stroke-width="1.0"/><text transform="translate(72.8 1024.0) scale(1.0 1)" text-anchor="end" font-size="14.99" fill="#4D4D4D">2.75</text><line x1="75.1" y1="1084.1" x2="77.5" y2="1084.1" stroke="#3a3a3a" stroke-width="1.0"/><text transform="translate(72.8 1089.5) scale(1.0 1)" text-anchor="end" font-size="14.99" fill="#4D4D4D">2.50</text><line x1="75.1" y1="1150.2" x2="77.5" y2="1150.2" stroke="#3a3a3a" stroke-width="1.0"/><text transform="translate(72.8 1155.6) scale(1.0 1)" text-anchor="end" font-size="14.99" fill="#4D4D4D">2.25</text><line x1="75.1" y1="1216.2" x2="77.5" y2="1216.2" stroke="#3a3a3a" stroke-width="1.0"/><text transform="translate(72.8 1221.6) scale(1.0 1)" text-anchor="end" font-size="14.99" fill="#4D4D4D">2.00</text><line x1="155.6" y1="1227.5" x2="155.6" y2="1229.9" stroke="#3a3a3a" stroke-width="1.0"/><text transform="translate(155.6 1243.7) scale(1.0 1)" text-anchor="middle" font-size="14.99" fill="#4D4D4D">4</text><line x1="280.6" y1="1227.5" x2="280.6" y2="1229.9" stroke="#3a3a3a" stroke-width="1.0"/><text transform="translate(280.6 1243.7) scale(1.0 1)" text-anchor="middle" font-size="14.99" fill="#4D4D4D">5</text><line x1="405.2" y1="1227.5" x2="405.2" y2="1229.9" stroke="#3a3a3a" stroke-width="1.0"/><text transform="translate(405.2 1243.7) scale(1.0 1)" text-anchor="middle" font-size="14.99" fill="#4D4D4D">6</text><path d="M77.5 935.1V1227.5H493" fill="none" stroke="#3a3a3a" stroke-width="1.0" stroke-linejoin="round"/><g font-size="33" fill="#000"><text x="86.2" y="29.6">a</text><text x="429.5" y="30.2">b</text><text transform="translate(85.8 511) scale(1.1 1)">c</text><text x="442" y="509.8">d</text><text x="106.2" y="966.4" font-size="32">e</text></g><g font-size="20.6" font-weight="bold" font-style="italic" fill="#000"><text x="74.6" y="412.6" textLength="57">Fungi</text><text x="417" y="411.8" textLength="83.5">Bacteria</text><text x="85.8" y="838.4" textLength="57">Fungi</text><text x="429.3" y="839" textLength="83.5">Bacteria</text><text x="86.2" y="1216" textLength="83.5">Bacteria</text></g><g font-size="22.85" font-style="italic" fill="#000"><text x="211.2" y="471.1">Taxonomic diversity (Shannon’s H’)</text><text x="211.2" y="906.7">Taxonomic diversity (Shannon’s H’)</text><text x="160.3" y="1258.5">Taxonomic diversity (Shannon’s H’)</text><text transform="translate(16.8 207.7) rotate(-90)" text-anchor="middle">C-cycling genes (Shannon’s H’)</text><text transform="translate(16.8 640.1) rotate(-90)" text-anchor="middle">P-cycling genes (Shannon’s H’)</text><text transform="translate(16.8 1057) rotate(-90)" text-anchor="middle">N-cycling genes (Shannon’s H’)</text></g><g fill="#000"><text x="508.4" y="1034.4" font-size="37.5">Land use</text><text x="550.6" y="1074.6" font-size="30">Grassland</text><text x="550.6" y="1106.6" font-size="30">Forest</text></g><line x1="511.6" y1="1063.5" x2="538" y2="1063.5" stroke="#F8752B" stroke-width="6"/><circle cx="524.8" cy="1063.5" r="5.3" fill="#F8752B" fill-opacity="0.8"/><line x1="511.6" y1="1096.2" x2="538" y2="1096.2" stroke="#68ABE6" stroke-width="6"/><path d="M524.8 1088.5L532.5 1096.2L524.8 1103.9L517.1 1096.2Z" fill="#68ABE6" fill-opacity="0.8"/>
</svg>
</body></html>
